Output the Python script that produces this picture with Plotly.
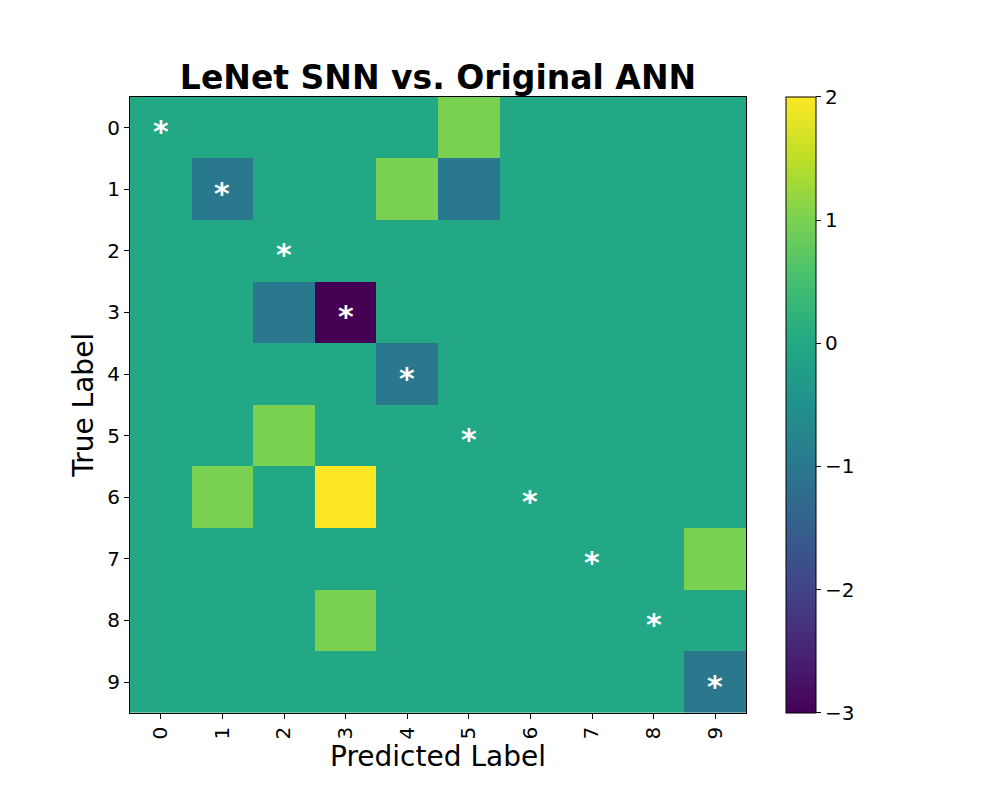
"""LeNet SNN vs. original ANN confusion-matrix difference heatmap."""

import plotly.graph_objects as go

labels = [str(i) for i in range(10)]

# difference of confusion matrices (rows: true label, cols: predicted label)
diff = [
    [0, 0, 0, 0, 0, 1, 0, 0, 0, 0],
    [0, -1, 0, 0, 1, -1, 0, 0, 0, 0],
    [0, 0, 0, 0, 0, 0, 0, 0, 0, 0],
    [0, 0, -1, -3, 0, 0, 0, 0, 0, 0],
    [0, 0, 0, 0, -1, 0, 0, 0, 0, 0],
    [0, 0, 1, 0, 0, 0, 0, 0, 0, 0],
    [0, 1, 0, 2, 0, 0, 0, 0, 0, 0],
    [0, 0, 0, 0, 0, 0, 0, 0, 0, 1],
    [0, 0, 0, 1, 0, 0, 0, 0, 0, 0],
    [0, 0, 0, 0, 0, 0, 0, 0, 0, -1],
]
cbar_ticks = [-3, -2, -1, 0, 1, 2]
cbar_text = ["\u22123", "\u22122", "\u22121", "0", "1", "2"]

# matplotlib viridis
viridis = [
    [0.0, "#440154"], [0.1, "#482475"], [0.2, "#414487"], [0.3, "#355f8d"],
    [0.4, "#2a788e"], [0.5, "#21918c"], [0.6, "#22a884"], [0.7, "#44bf70"],
    [0.8, "#7ad151"], [0.9, "#bddf26"], [1.0, "#fde725"],
]

fig = go.Figure(go.Heatmap(
    z=diff,
    x=labels,
    y=labels,
    colorscale=viridis,
    zmin=-3,
    zmax=2,
    colorbar=dict(
        x=0.778, xanchor="left", xpad=0,
        y=0.119, yanchor="bottom", ypad=0,
        len=0.77, lenmode="fraction",
        thickness=30,
        outlinecolor="black", outlinewidth=1,
        tickvals=cbar_ticks, ticktext=cbar_text,
        ticks="outside", ticklen=5, tickcolor="black",
        tickfont=dict(size=20, color="black"),
    ),
))

# mark the diagonal (correct predictions)
for i, lab in enumerate(labels):
    fig.add_annotation(
        x=lab, y=lab, text="<b>*</b>", showarrow=False,
        font=dict(size=30, color="white"), yshift=-4,
    )

axis_style = dict(
    showline=True, mirror=True, linecolor="black", linewidth=1,
    ticks="outside", ticklen=5, tickcolor="black",
    tickfont=dict(size=20, color="black"), showgrid=False, zeroline=False,
)

fig.update_layout(
    width=1000, height=800,
    margin=dict(l=0, r=0, t=0, b=0, autoexpand=False),
    paper_bgcolor="white", plot_bgcolor="white",
    font=dict(family="DejaVu Sans", color="black"),
    title=dict(
        text="<b>LeNet SNN vs. Original ANN</b>",
        x=0.43, xanchor="center", y=0.913, yanchor="middle",
        font=dict(size=33, color="black"),
    ),
    xaxis=dict(
        domain=[0.122, 0.738], tickangle=-90,
        title=dict(text="Predicted Label", font=dict(size=28), standoff=1),
        **axis_style,
    ),
    yaxis=dict(
        domain=[0.119, 0.889], autorange="reversed",
        title=dict(text="True Label", font=dict(size=28), standoff=5),
        **axis_style,
    ),
)

fig.write_html("out.html")
